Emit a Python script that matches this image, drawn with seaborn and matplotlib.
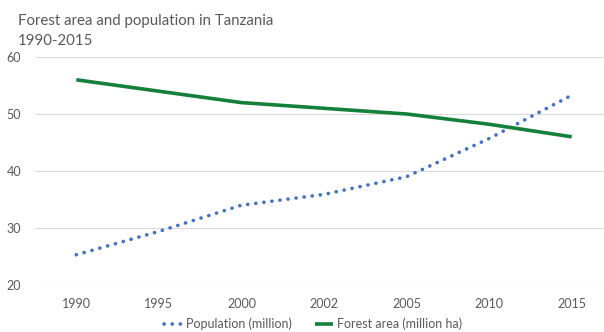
import matplotlib
matplotlib.use("Agg")
import matplotlib.pyplot as plt
import seaborn as sns

years = ["1990", "1995", "2000", "2002", "2005", "2010", "2015"]
population = [25.3, 29.4, 34.0, 35.9, 39.0, 45.7, 53.3]
forest_area = [56.0, 54.0, 52.0, 51.0, 50.0, 48.2, 46.0]
y_ticks = [20, 30, 40, 50, 60]

sns.set_theme(style="white")
plt.rcParams["font.family"] = ["Lato", "DejaVu Sans"]

text_col = "#595959"
blue = "#4472C4"
green = "#15803A"
dots = (0, (0.05, 2.2))

fig = plt.figure(figsize=(6.04, 3.32), dpi=100)
ax = fig.add_axes([35 / 604, 1 - 285 / 332, 578 / 604, 228 / 332])

x = list(range(len(years)))
sns.lineplot(x=x, y=population, ax=ax, color=blue, linewidth=2.6,
             label="Population (million)")
sns.lineplot(x=x, y=forest_area, ax=ax, color=green, linewidth=2.6,
             label="Forest area (million ha)")
pop_line, forest_line = ax.get_lines()[:2]
pop_line.set_linestyle(dots)
pop_line.set_dash_capstyle("round")
forest_line.set_solid_capstyle("butt")

ax.set_xlim(-0.5, len(years) - 0.5)
ax.set_ylim(20, 60)
ax.set_yticks(y_ticks)
ax.set_xticks(x)
ax.set_xticklabels(years)
ax.grid(axis="y", color="#d9d9d9", linewidth=0.8)
ax.set_axisbelow(True)
for s in ax.spines.values():
    s.set_visible(False)
ax.tick_params(axis="both", length=0, labelsize=9, labelcolor=text_col)
ax.tick_params(axis="x", pad=9)
ax.tick_params(axis="y", pad=10)

handles, labels = ax.get_legend_handles_labels()
ax.get_legend().remove()
leg = fig.legend(handles, labels, loc="center", bbox_to_anchor=(313 / 604, 1 - 324 / 332),
                 ncol=2, frameon=False, fontsize=9, handlelength=1.5,
                 columnspacing=1.8, handletextpad=0.3)
for t in leg.get_texts():
    t.set_color(text_col)
leg.get_lines()[0].set_linestyle(dots)
leg.get_lines()[0].set_dash_capstyle("round")

fig.text(18 / 604, 1 - 21 / 332, "Forest area and population in Tanzania",
         ha="left", va="center", fontsize=10.8, color=text_col)
fig.text(18 / 604, 1 - 41 / 332, "1990-2015",
         ha="left", va="center", fontsize=10.8, color=text_col)

fig.savefig("out.png", dpi=100)
